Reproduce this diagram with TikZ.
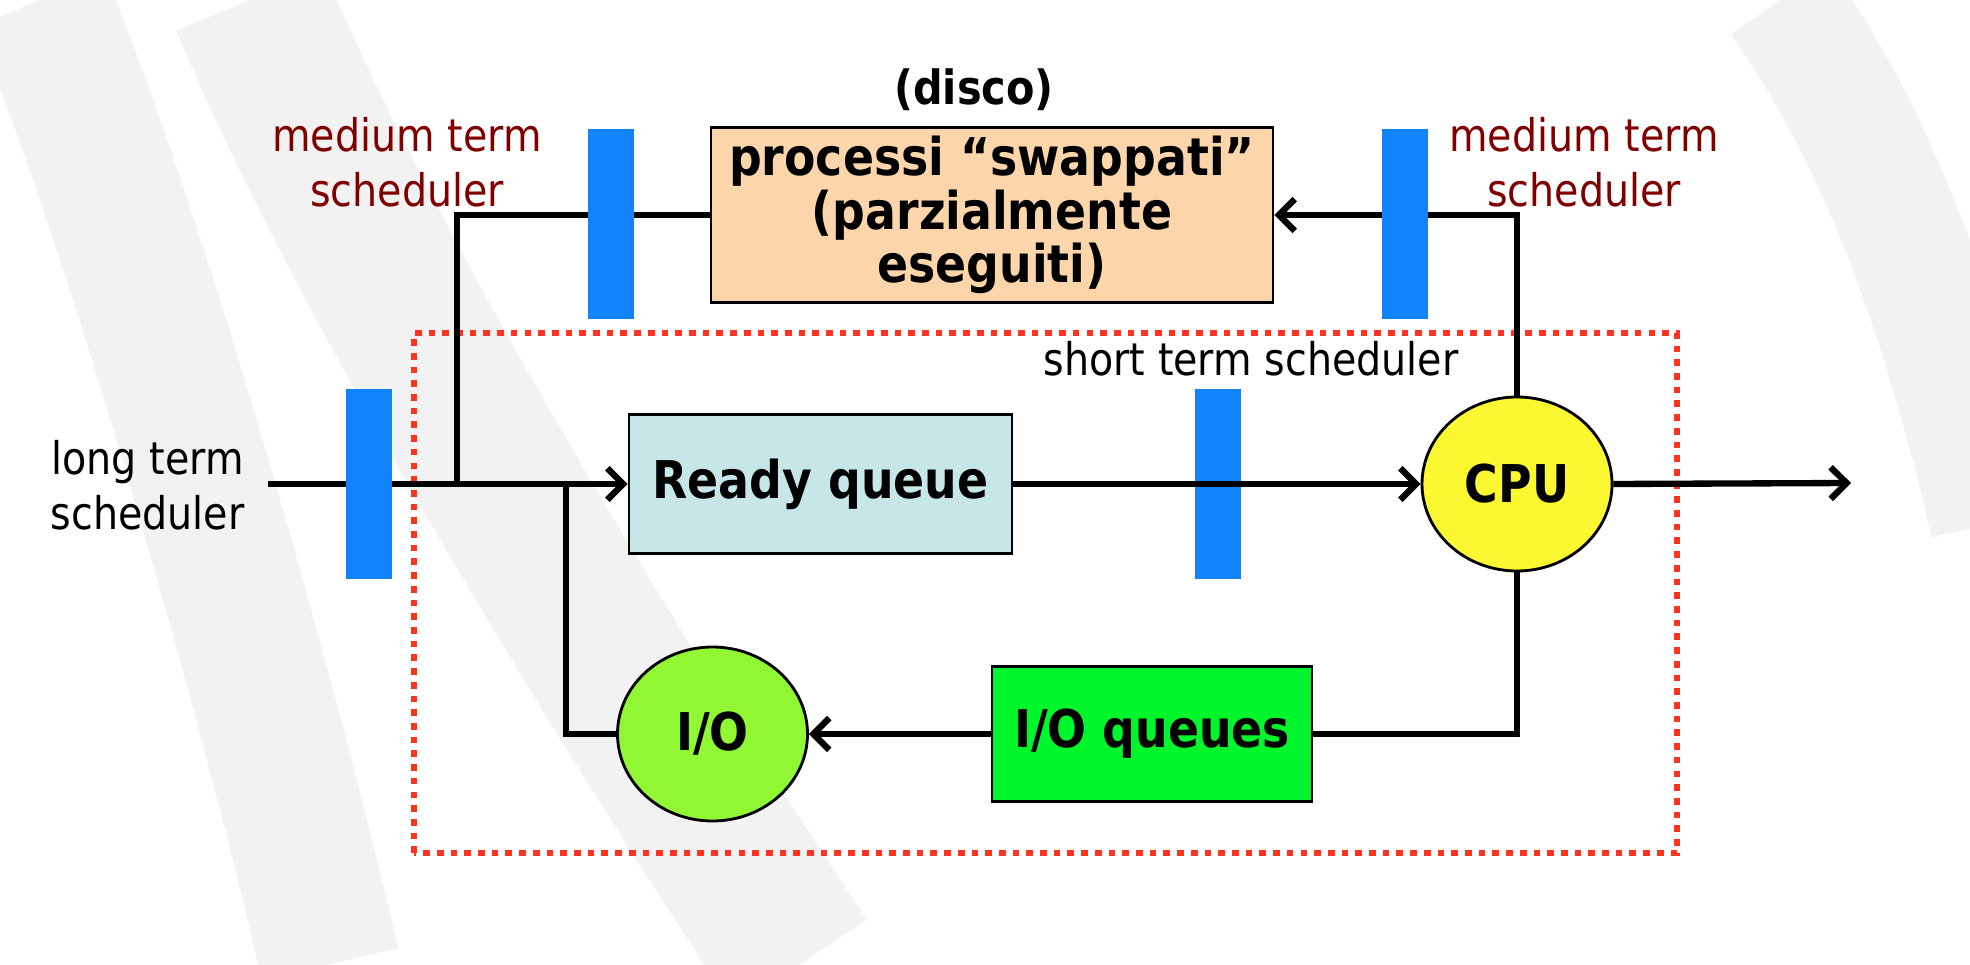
\documentclass[tikz,border=0pt]{standalone}
\usepackage{fontspec}
\setmainfont{DejaVu Sans}[FakeStretch=0.88]
\usepackage{xcolor}
\usetikzlibrary{arrows.meta,positioning,shapes.geometric}

\definecolor{barblue}{RGB}{17,131,251}
\definecolor{swapfill}{RGB}{252,214,170}
\definecolor{readyfill}{RGB}{198,230,232}
\definecolor{cpufill}{RGB}{251,248,50}
\definecolor{iofill}{RGB}{144,247,50}
\definecolor{ioqfill}{RGB}{0,246,44}
\definecolor{schedred}{RGB}{128,0,0}
\definecolor{dotred}{RGB}{255,51,34}
\definecolor{bandgray}{RGB}{242,242,242}

\newcommand{\regfont}{\fontsize{12.8pt}{15.6pt}\selectfont}
\newcommand{\boxfont}{\fontsize{14.8pt}{15.2pt}\selectfont\bfseries}

\begin{document}
\begin{tikzpicture}[x=1cm,y=1cm,>={Straight Barb[length=4.5pt,width=9pt]},
  conn/.style={line width=1.8pt},
  bar/.style={fill=barblue,minimum width=0.46cm,minimum height=1.9cm,inner sep=0pt},
  qbox/.style={draw,line width=0.8pt,inner sep=0pt,font=\boxfont,align=center},
  oval/.style={ellipse,draw,line width=0.8pt,minimum width=1.9cm,minimum height=1.74cm,inner sep=0pt,font=\boxfont},
  schedtext/.style={font=\regfont,align=center,inner sep=0pt}]
  \useasboundingbox (0,0) rectangle (19.70,9.64);
  \fill[white] (0,0) rectangle (19.70,9.64);
  % background stripes
  \draw[bandgray,line width=1.4cm] (0.40,9.64) .. controls (1.3,7.5) and (2.6,3) .. (3.3,0);
  \draw[bandgray,line width=1.6cm] (2.5,9.64) .. controls (3.6,7) and (6,3) .. (8.0,0);
  \draw[bandgray,line width=1.2cm] (17.8,9.64) .. controls (18.6,8.5) and (19.3,7) .. (19.9,4.4);
  % short term area
  \draw[dotred,line width=1.9pt,dash pattern=on 1.9pt off 2pt] (4.14,1.11) rectangle (16.77,6.31);
  \node[bar] (bshort) at (12.175,4.80) {};
  % queues and servers
  \node[qbox,fill=swapfill,minimum width=5.62cm,minimum height=1.75cm] (swap) at (9.92,7.49)
    {processi “swappati”\\(parzialmente\\eseguiti)};
  \node[qbox,fill=readyfill,minimum width=3.83cm,minimum height=1.39cm] (ready) at (8.205,4.80) {Ready queue};
  \node[oval,fill=cpufill] (cpu) at (15.17,4.80) {CPU};
  \node[qbox,fill=ioqfill,minimum width=3.20cm,minimum height=1.35cm] (ioq) at (11.52,2.30) {I/O queues};
  \node[oval,fill=iofill] (io) at (7.125,2.30) {I/O};
  % connectors
  \coordinate (in) at (2.68,4.80);
  \coordinate (out) at (18.51,4.81);
  \coordinate (jswap) at (4.567,4.80);
  \coordinate (jio) at (5.66,4.80);
  \draw[conn,->] (in) -- (ready.west);
  \draw[conn,->] (ready.east) -- (cpu.west);
  \draw[conn,->] (cpu.east) -- (out);
  \draw[conn,->] (cpu.north) |- (swap.east);
  \draw[conn] (swap.west) -| (jswap);
  \draw[conn] (cpu.south) |- (ioq.east);
  \draw[conn,->] (ioq.west) -- (io.east);
  \draw[conn] (io.west) -| (jio);
  % schedulers
  \foreach \n/\x/\y in {blong/3.69/4.80,bmidl/6.11/7.40,bmidr/14.05/7.40}{
    \node[bar] (\n) at (\x,\y) {};
  }
  % texts
  \node[font=\fontsize{13.4pt}{15pt}\selectfont\bfseries,inner sep=0pt] (disco) at (9.74,8.74) {(disco)};
  \node[schedtext,text=schedred,anchor=north] (mtsl) at (4.07,8.47) {medium term\\scheduler};
  \node[schedtext,text=schedred,anchor=north] (mtsr) at (15.84,8.47) {medium term\\scheduler};
  \node[schedtext,anchor=base] (stsl) at (12.51,5.88) {short term scheduler};
  \node[schedtext,anchor=north] (ltsl) at (1.475,5.24) {long term\\scheduler};
\end{tikzpicture}
\end{document}
